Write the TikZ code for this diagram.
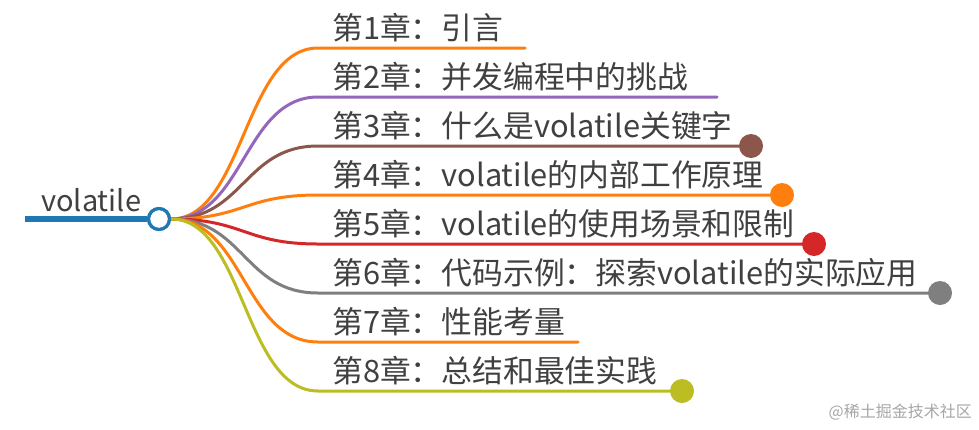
\documentclass[tikz,border=0pt]{standalone}
\usepackage{fontspec}
\newfontfamily\cjk{Noto Sans CJK SC}
\begin{document}
\begin{tikzpicture}[x=1pt,y=-1pt,
  lbl/.style={anchor=base west,inner sep=0pt,font=\cjk\fontsize{30.8}{33}\selectfont,text=black!75},
  br/.style={line width=3pt,line cap=round},
  dotnode/.style={circle,inner sep=0pt,minimum size=24pt}]
\definecolor{c1}{HTML}{FF7F0E}
\definecolor{c2}{HTML}{9467BD}
\definecolor{c3}{HTML}{8C564B}
\definecolor{c5}{HTML}{D62728}
\definecolor{c6}{HTML}{7F7F7F}
\definecolor{c8}{HTML}{BCBD22}
\definecolor{cb}{HTML}{1F77B4}
\useasboundingbox (0,0) rectangle (979,429);
% root
\coordinate (rs) at (25,219);
\node[circle,draw=cb,fill=white,line width=3pt,inner sep=0pt,minimum size=21pt] (root) at (159,219) {};
\draw[cb,line width=6pt] (rs) -- (root.west);
\node[lbl,font=\cjk\fontsize{29}{32}\selectfont] (rt) at (41,211) {volatile};
% branch ends
\foreach \i/\y/\xe/\col/\dot/\txt in {
 1/48/525/c1/0/{第1章：引言},
 2/97/717/c2/0/{第2章：并发编程中的挑战},
 3/146/751/c3/1/{第3章：什么是volatile关键字},
 4/195/782/c1/1/{第4章：volatile的内部工作原理},
 5/244/814/c5/1/{第5章：volatile的使用场景和限制},
 6/293/940/c6/1/{第6章：代码示例：探索volatile的实际应用},
 7/342/578/c1/0/{第7章：性能考量},
 8/391/682/c8/1/{第8章：总结和最佳实践}}{
  \coordinate (k\i) at (318,\y);
  \coordinate (e\i) at (\xe,\y);
  \node[lbl] (t\i) at (332,\y-8.5) {\txt};
  \draw[br,\col] (root.east) .. controls (244,219) and (244,\y) .. (k\i) -- (e\i);
  \ifnum\dot=1 \node[dotnode,fill=\col] (d\i) at (e\i) {};\fi
}
\draw[cb,line width=3pt] (root) circle (10.5pt);
\node[anchor=base east,inner sep=0pt,font=\cjk\fontsize{16}{18}\selectfont,text=black!35] (wm) at (972,417) {@稀土掘金技术社区};
\end{tikzpicture}
\end{document}
